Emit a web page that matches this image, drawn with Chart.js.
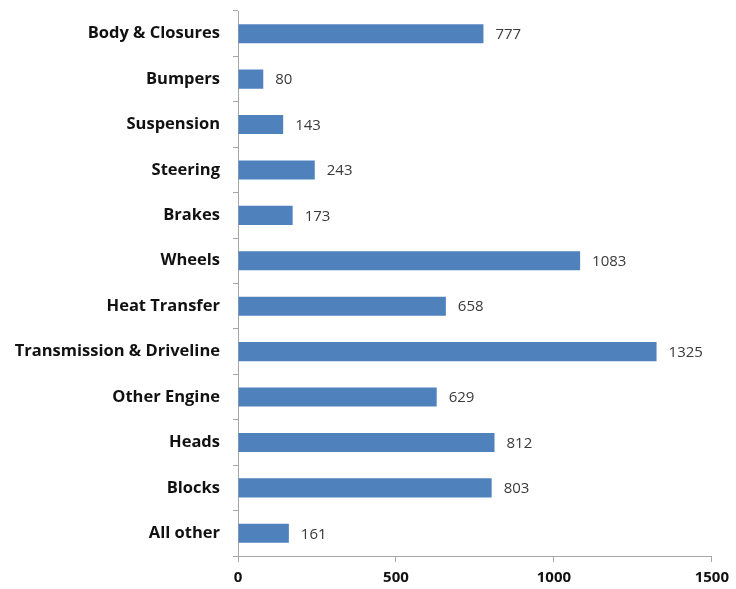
<!DOCTYPE html>
<html>
<head>
<meta charset="utf-8">
<script src="https://cdn.jsdelivr.net/npm/chart.js@4"></script>
<style>
  body { margin: 0; background: #fff; }
  canvas { display: block; }
</style>
</head>
<body>
<canvas id="myChart" width="736" height="589"></canvas>
<script>
var categories = ['Body & Closures', 'Bumpers', 'Suspension', 'Steering', 'Brakes', 'Wheels',
    'Heat Transfer', 'Transmission & Driveline', 'Other Engine', 'Heads', 'Blocks', 'All other'];
var counts = [777, 80, 143, 243, 173, 1083, 658, 1325, 629, 812, 803, 161];
var xTicks = [0, 500, 1000, 1500];

// value labels to the right of each bar
var valueLabels = {
    id: 'valueLabels',
    afterDatasetsDraw: function (chart) {
        var ctx = chart.ctx;
        var meta = chart.getDatasetMeta(0);
        ctx.save();
        ctx.font = '15px "Open Sans"';
        ctx.fillStyle = '#3a3a3a';
        ctx.textBaseline = 'middle';
        ctx.textAlign = 'left';
        meta.data.forEach(function (bar, i) {
            ctx.fillText(String(counts[i]), bar.x + 12, bar.y + 1);
        });
        ctx.restore();
    }
};

var ctx = document.getElementById('myChart').getContext('2d');
var chart = new Chart(ctx, {
    type: 'bar',
    data: {
        labels: categories,
        datasets: [{
            data: counts,
            backgroundColor: '#4F81BD',
            borderWidth: 0,
            barPercentage: 0.42,
            categoryPercentage: 1
        }]
    },
    options: {
        indexAxis: 'y',
        responsive: false,
        animation: false,
        layout: { padding: { top: 11, right: 24, left: 0, bottom: 0 } },
        plugins: {
            legend: { display: false },
            tooltip: { enabled: false }
        },
        scales: {
            x: {
                min: 0,
                max: 1500,
                afterBuildTicks: function (axis) {
                    axis.ticks = xTicks.map(function (v) { return { value: v }; });
                },
                afterFit: function (scale) { scale.height = 33; },
                grid: {
                    drawOnChartArea: false,
                    drawTicks: true,
                    tickLength: 6,
                    color: '#a6a6a6'
                },
                border: { color: '#a6a6a6', width: 1 },
                ticks: {
                    color: '#111',
                    padding: 7,
                    maxRotation: 0,
                    callback: function (v) { return String(v); },
                    font: { family: '"Open Sans"', size: 15, weight: 'bold' }
                }
            },
            y: {
                offset: true,
                afterFit: function (scale) {
                    scale.width = 238;
                    scale.paddingTop = 0;
                    scale.paddingBottom = 0;
                },
                grid: {
                    offset: true,
                    drawOnChartArea: false,
                    drawTicks: true,
                    tickLength: 5,
                    color: '#a6a6a6'
                },
                border: { color: '#a6a6a6', width: 1 },
                ticks: {
                    color: '#111',
                    padding: 13,
                    autoSkip: false,
                    font: { family: '"Open Sans"', size: 16.5, weight: 'bold' }
                }
            }
        }
    },
    plugins: [valueLabels]
});
</script>
</body>
</html>
